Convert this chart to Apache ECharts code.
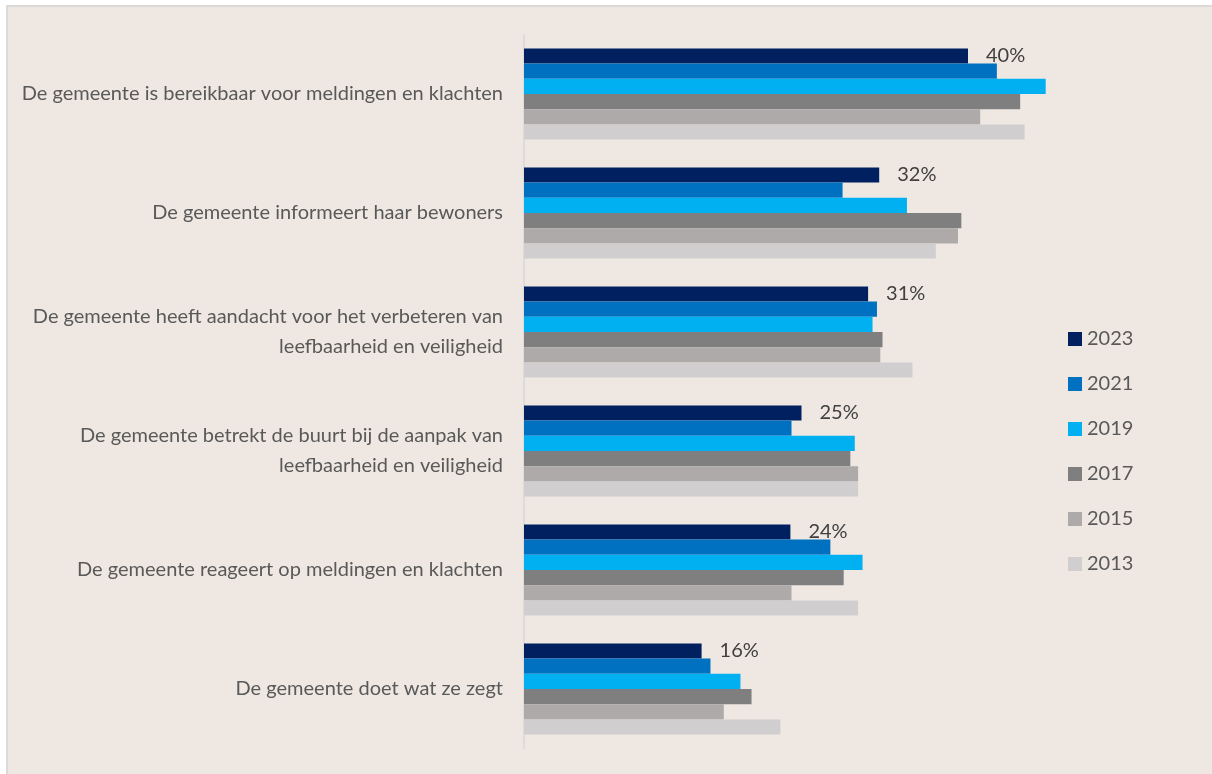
<!DOCTYPE html>
<html>
<head>
<meta charset="utf-8">
<script src="https://cdn.jsdelivr.net/npm/echarts@6/dist/echarts.min.js"></script>
<style>
  html, body { margin: 0; padding: 0; background: #ffffff; width: 1212px; height: 774px; overflow: hidden; }
  #panel { position: absolute; left: 6px; top: 5px; right: 0; bottom: 0; background: #EFE8E2;
           border-left: 2px solid #DCDAD8; border-top: 2px solid #DCDAD8; }
  #chart { position: absolute; left: 0; top: 0; width: 1212px; height: 774px; }
</style>
</head>
<body>
<div id="panel"></div>
<div id="chart"></div>
<script>
// Statements (top to bottom)
const categories = [
  'De gemeente is bereikbaar voor meldingen en klachten',
  'De gemeente informeert haar bewoners',
  'De gemeente heeft aandacht voor het verbeteren van\nleefbaarheid en veiligheid',
  'De gemeente betrekt de buurt bij de aanpak van\nleefbaarheid en veiligheid',
  'De gemeente reageert op meldingen en klachten',
  'De gemeente doet wat ze zegt'
];

// Survey years, newest first
const years = ['2023', '2021', '2019', '2017', '2015', '2013'];

// Share of respondents (%) per statement, one array per year
const v2023 = [40, 32, 31, 25, 24, 16];
const v2021 = [42.6, 28.7, 31.8, 24.1, 27.6, 16.8];
const v2019 = [47.0, 34.5, 31.4, 29.8, 30.5, 19.5];
const v2017 = [44.7, 39.4, 32.3, 29.4, 28.8, 20.5];
const v2015 = [41.1, 39.1, 32.1, 30.1, 24.1, 18.0];
const v2013 = [45.1, 37.1, 35.0, 30.1, 30.1, 23.1];

const yearValues = [v2023, v2021, v2019, v2017, v2015, v2013];
const colors = ['#002060', '#0070C0', '#00B0F0', '#7F7F7F', '#AEAAAA', '#D0CECE'];

const FONT = 'Lato, "Open Sans", sans-serif';

const series = years.map((y, i) => ({
  name: y,
  type: 'bar',
  data: yearValues[i],
  itemStyle: { color: colors[i] },
  barGap: '0%',
  barCategoryGap: '23.4%',
  label: i === 0 ? {
    show: true,
    position: 'right',
    distance: 18,
    formatter: '{c}%',
    fontFamily: FONT,
    fontSize: 20,
    color: '#404040'
  } : { show: false },
  emphasis: { disabled: true },
  animation: false
}));

const chart = echarts.init(document.getElementById('chart'), null, { renderer: 'canvas' });
chart.setOption({
  backgroundColor: 'transparent',
  animation: false,
  grid: {
    left: 524,
    top: 34.5,
    width: 555,
    height: 714,
    outerBoundsMode: 'none',
    containLabel: false
  },
  xAxis: {
    type: 'value',
    min: 0,
    max: 50,
    show: false
  },
  yAxis: {
    type: 'category',
    inverse: true,
    data: categories,
    axisTick: { show: false },
    axisLine: { show: true, lineStyle: { color: '#D9D9D9', width: 1.5 } },
    axisLabel: {
      margin: 21,
      fontFamily: FONT,
      fontSize: 20,
      lineHeight: 30,
      color: '#595959',
      align: 'right'
    },
    splitLine: { show: false }
  },
  legend: {
    data: years,
    orient: 'vertical',
    left: 1068,
    top: 329,
    itemWidth: 14,
    itemHeight: 14,
    itemGap: 25,
    icon: 'rect',
    padding: 0,
    selectedMode: false,
    textStyle: { fontFamily: FONT, fontSize: 20, color: '#595959' }
  },
  series: series
});
</script>
</body>
</html>
